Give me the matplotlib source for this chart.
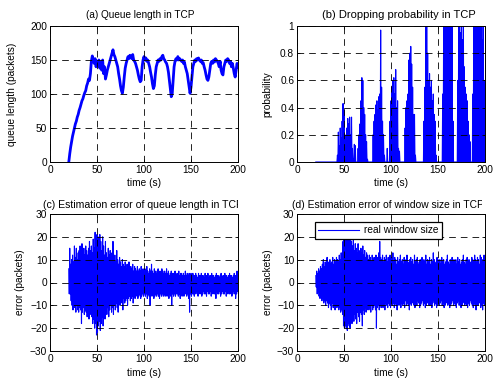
import numpy as np
import matplotlib
matplotlib.use("Agg")
import matplotlib.pyplot as plt
from matplotlib.transforms import Bbox

plt.rcParams['font.family'] = ['Liberation Sans', 'DejaVu Sans']

# ---------------- data ----------------
time_s = np.arange(20, 201)

queue_len = [
    0, 12, 22, 30, 38, 44, 50, 56, 60, 66, 70, 76, 80, 85, 90, 93, 98, 102, 105, 112,   # 20-39
    116, 122, 120, 130, 148, 156,                                                       # 40-45
    150, 145, 152, 140, 148, 143, 150, 138, 146, 135, 150, 130, 140, 122, 128,           # 46-60
    135, 140, 145, 150, 155, 160, 165,                                                  # 61-67
    158, 155, 150, 145, 140, 130, 122, 112, 105, 101,                                   # 68-77
    110, 125, 138, 145, 150, 155, 152, 157,                                             # 78-85
    155, 152, 158, 150, 148, 145, 140, 135, 128, 122, 118,                              # 86-96
    120, 140, 150,                                                                      # 97-99
    155, 150, 153, 148, 150, 145, 140, 132, 125, 115, 108,                              # 100-110
    112, 128, 140, 145, 150, 148, 152, 150, 155, 157, 152,                              # 111-121
    150, 147, 145, 140, 132, 120, 108, 96,                                              # 122-129
    100, 120, 140, 148, 152, 150, 155, 150, 152,                                        # 130-138
    150, 148, 150, 145, 147, 140, 135, 130, 120, 110, 101,                              # 139-149
    110, 125, 140, 145, 150, 148, 152, 150, 153, 150,                                   # 150-159
    148, 150, 145, 146, 140, 135, 128, 122, 120,                                        # 160-168
    125, 135, 145, 148, 145, 150, 147, 152, 150,                                        # 169-177
    148, 145, 140, 148, 135, 130, 128,                                                  # 178-184
    140, 145, 150, 148, 152, 150,                                                       # 185-190
    145, 148, 140, 145, 138, 130, 125, 135, 145, 140,                                   # 191-200
]

drop_prob = (
    [0.0] * 23 +                                                                        # 20-42
    [0.05, 0.22, 0.12, 0.25, 0.18, 0.30, 0.43, 0.38, 0.20, 0.10, 0.25, 0.32,
     0.28, 0.33, 0.20, 0.33, 0.10, 0.02, 0.13, 0.12, 0.0, 0.0] +                        # 43-64
    [0.10, 0.20, 0.28, 0.45, 0.62, 0.60, 0.40, 0.35, 0.20, 0.15, 0.02,
     0.0, 0.0, 0.0, 0.0, 0.0] +                                                         # 65-80
    [0.20, 0.30, 0.35, 0.42, 0.45, 0.38, 0.48, 0.50, 0.97, 0.55, 0.30, 0.20,
     0.05, 0.0, 0.0, 0.10, 0.0, 0.0] +                                                  # 81-98
    [0.30, 0.45, 0.55, 0.60, 0.62, 0.50, 0.68, 0.40, 0.45, 0.10, 0.08,
     0.0, 0.0, 0.0, 0.0, 0.0] +                                                         # 99-114
    [0.25, 0.40, 0.45, 0.50, 0.75, 0.80, 0.85, 0.72, 0.55, 0.35, 0.35, 0.05,
     0.0, 0.0, 0.0, 0.0, 0.0, 0.0, 0.0, 0.0] +                                          # 115-134
    [0.30, 0.55, 1.0, 1.0, 0.80, 0.60, 0.65, 0.55, 0.60, 0.45, 0.50, 0.35,
     0.30, 0.05, 0.0, 0.0, 0.0, 0.0, 0.0, 0.0] +                                        # 135-154
    [0.50, 1.0, 1.0, 1.0, 1.0, 1.0, 1.0, 1.0, 1.0, 1.0, 1.0, 0.30,
     0.0, 0.0, 0.0, 0.0] +                                                              # 155-170
    [0.60, 1.0, 1.0, 0.95, 1.0, 0.90, 1.0, 0.70, 0.55, 0.50, 0.45, 0.30,
     0.20, 0.15, 0.0, 0.0] +                                                            # 171-186
    [0.50, 1.0, 1.0, 1.0, 1.0, 1.0, 1.0, 1.0, 1.0, 1.0, 0.90, 1.0, 0.60, 0.20]          # 187-200
)

qerr_upper = [
    6, 15, 8, 10, 12, 9, 16, 11, 15, 10, 13, 14, 16, 12, 17, 13, 15, 12, 16, 14,       # 20-39
    12, 15, 18, 14, 16, 13, 19, 15, 22, 17, 21, 20, 15, 21, 18, 14, 20, 16, 12, 18,    # 40-59
    13, 11, 15, 12, 14, 10, 13, 18, 11, 12, 9, 14, 10, 8, 11, 9, 7, 10, 8, 7,          # 60-79
    9, 6, 8, 7, 9, 6, 7, 6, 8, 5, 7, 6, 5, 7, 5, 6, 5, 7, 5, 6, 5,                     # 80-100
    6, 5, 7, 5, 4, 6, 5, 8, 5, 4, 6, 5, 4, 5, 6, 4, 5, 4, 6, 5,
    4, 5, 4, 6, 4, 5, 3, 4, 5, 4, 4, 3, 5, 4, 3, 4, 5, 3, 4, 4,
    3, 4, 3, 5, 3, 4, 3, 4, 3, 4,                                                      # 101-150
    3, 4, 3, 3, 4, 3, 2, 4, 3, 3, 4, 3, 3, 2, 4, 3, 3, 4, 2, 3,
    3, 4, 3, 3, 2, 3, 4, 3, 3, 2, 3, 4, 2, 3, 3, 4, 3, 3, 2, 3,
    4, 3, 3, 2, 3, 4, 3, 3, 5, 3,                                                      # 151-200
]
qerr_lower = [
    -5, -5, -8, -10, -12, -9, -11, -13, -10, -12, -13, -11, -12, -18, -13, -11, -14, -12, -13, -15,   # 20-39
    -11, -16, -13, -14, -15, -18, -16, -20, -18, -23, -22, -19, -17, -21, -18, -15, -19, -13, -16, -12,  # 40-59
    -14, -11, -15, -12, -10, -13, -11, -14, -10, -12, -9, -11, -13, -8, -10, -9, -8, -12, -7, -9,    # 60-79
    -8, -7, -10, -7, -6, -8, -7, -6, -9, -6, -7, -6, -5, -7, -6, -5, -7, -6, -5, -6, -5,           # 80-100
    -6, -5, -7, -5, -6, -10, -5, -6, -5, -7, -6, -5, -6, -5, -6, -7, -5, -6, -5, -6,
    -5, -6, -5, -6, -5, -7, -5, -6, -10, -5, -6, -5, -6, -5, -5, -6, -5, -7, -5, -6,
    -5, -6, -5, -5, -6, -5, -7, -13, -5, -6,                                           # 101-150
    -5, -5, -6, -5, -4, -5, -6, -5, -4, -5, -6, -5, -4, -5, -5, -6, -4, -5, -5, -4,
    -6, -5, -4, -5, -5, -7, -4, -5, -5, -4, -6, -5, -4, -5, -5, -4, -6, -5, -4, -5,
    -5, -4, -6, -5, -4, -5, -7, -5, -4, -3,                                            # 151-200
]

werr_upper = [
    3, 5, 4, 6, 5, 7, 6, 8, 10, 7, 9, 8, 11, 8, 9, 10, 8, 9, 11, 8,                   # 20-39
    10, 9, 11, 10, 9, 12, 10, 13, 12, 18, 22, 25, 20, 24, 22, 25, 19, 23, 18, 16,      # 40-59
    19, 14, 17, 15, 13, 17, 14, 12, 15, 13, 16, 12, 14, 11, 13, 12, 10, 12, 11, 9,     # 60-79
    12, 10, 11, 9, 12, 10, 11, 13, 18, 11, 10, 12, 9, 11, 10, 12, 9, 11, 10, 12, 11,   # 80-100
    10, 13, 9, 11, 10, 8, 11, 9, 10, 12, 9, 10, 8, 11, 9, 10, 12, 9, 8, 10,
    11, 9, 10, 8, 12, 9, 10, 11, 8, 9, 10, 9, 11, 8, 10, 9, 12, 8, 10, 9,
    11, 8, 10, 9, 13, 10, 8, 9, 11, 10,                                                # 101-150
    9, 10, 8, 11, 9, 10, 8, 9, 10, 12, 9, 8, 10, 9, 11, 8, 10, 9, 10, 8,
    11, 9, 10, 8, 9, 10, 12, 9, 8, 10, 11, 9, 10, 8, 9, 11, 10, 9, 12, 10,
    9, 11, 10, 8, 12, 11, 10, 9, 12, 11,                                               # 151-200
]
werr_lower = [
    -2, -5, -4, -6, -7, -6, -8, -7, -9, -8, -10, -8, -9, -11, -9, -10, -12, -9, -11, -10,          # 20-39
    -12, -9, -11, -10, -12, -11, -13, -12, -14, -19, -20, -19, -20, -21, -18, -19, -20, -17, -18, -15,  # 40-59
    -17, -14, -16, -18, -13, -15, -17, -13, -14, -19, -12, -14, -11, -13, -12, -10, -12, -11, -13, -10,  # 60-79
    -12, -11, -10, -12, -20, -11, -10, -12, -10, -11, -9, -11, -10, -12, -9, -10, -11, -9, -10, -11, -9,  # 80-100
    -10, -9, -11, -9, -10, -12, -9, -10, -8, -11, -9, -10, -9, -11, -8, -10, -9, -10, -12, -9,
    -10, -9, -8, -10, -11, -9, -10, -8, -9, -11, -10, -9, -8, -10, -9, -11, -10, -9, -8, -10,
    -9, -10, -11, -9, -8, -10, -9, -11, -10, -9,                                       # 101-150
    -10, -9, -8, -10, -9, -11, -10, -9, -8, -10, -9, -11, -10, -9, -8, -10, -9, -10, -11, -9,
    -8, -10, -9, -11, -10, -9, -8, -10, -9, -10, -11, -9, -10, -8, -9, -10, -11, -9, -10, -12,
    -9, -10, -8, -9, -11, -10, -12, -9, -10, -12,                                      # 151-200
]

x_ticks = [0, 50, 100, 150, 200]
q_ticks = [0, 50, 100, 150, 200]
p_ticks = [0, 0.2, 0.4, 0.6, 0.8, 1]
p_tick_labels = ['0', '0.2', '0.4', '0.6', '0.8', '1']
e_ticks = [-30, -20, -10, 0, 10, 20, 30]

titles = ['(a) Queue length in TCP',
          '(b) Dropping probability in TCP',
          '(c) Estimation error of queue length in TCP',
          '(d) Estimation error of window size in TCP']
legend_label = 'real window size'

# ---------------- figure ----------------
W, H = 497, 381
fig = plt.figure(figsize=(W / 100, H / 100), dpi=100)
blue = '#0000ff'
FS = 7.3


def px_axes(l, t, r, b):
    return fig.add_axes([l / W, 1 - b / H, (r - l) / W, (b - t) / H])


def style(ax, yticks, ylim, ylabel, ylab_x, xlab_y, ytl=None):
    ax.set_xlim(0, 200)
    ax.set_ylim(*ylim)
    ax.set_xticks(x_ticks)
    ax.set_yticks(yticks)
    if ytl is not None:
        ax.set_yticklabels(ytl)
    ax.tick_params(direction='in', length=2.5, width=0.6, labelsize=FS,
                   top=True, right=True, pad=2)
    ax.grid(True, color='black', linestyle=(0, (8, 6)), linewidth=0.6)
    ax.set_axisbelow(False)
    for s in ax.spines.values():
        s.set_linewidth(0.7)
    ax.set_xlabel('time (s)', fontsize=FS)
    ax.set_ylabel(ylabel, fontsize=FS)
    ax.yaxis.set_label_coords(ylab_x, 0.5)
    ax.xaxis.set_label_coords(0.5, xlab_y)


def put_title(text, x_left_px, yc_px, clip_px, size):
    t = fig.text(x_left_px / W, 1 - yc_px / H, text, fontsize=size,
                 ha='left', va='center')
    t.set_clip_on(True)
    t.set_clip_box(Bbox.from_extents(0, 0, clip_px, H))
    return t


ax_a = px_axes(50, 26, 238, 162)
ax_b = px_axes(297, 26, 485, 162)
ax_c = px_axes(50, 214, 238, 351)
ax_d = px_axes(297, 214, 485, 351)

# (a) queue length
ax_a.plot(time_s, queue_len, color=blue, linewidth=2.0)
style(ax_a, q_ticks, (0, 200), 'queue length (packets)', -0.178, -0.12)

# (b) dropping probability: each sample drawn down to zero
tz = np.column_stack([time_s, time_s + 0.5]).ravel()
pz = np.column_stack([drop_prob, np.zeros(len(drop_prob))]).ravel()
ax_b.plot(tz, pz, color=blue, linewidth=0.8)
style(ax_b, p_ticks, (0, 1), 'probability', -0.13, -0.12, p_tick_labels)

# (c) estimation error of queue length
cz = np.column_stack([qerr_upper, qerr_lower]).ravel()
ax_c.plot(tz, cz, color=blue, linewidth=0.8)
style(ax_c, e_ticks, (-30, 30), 'error (packets)', -0.133, -0.125)

# (d) estimation error of window size
dz = np.column_stack([werr_upper, werr_lower]).ravel()
ax_d.plot(tz, dz, color=blue, linewidth=0.8, label=legend_label)
style(ax_d, e_ticks, (-30, 30), 'error (packets)', -0.128, -0.125)
leg = ax_d.legend(loc='upper left', bbox_to_anchor=(0.095, 0.945), fontsize=FS,
                  frameon=True, fancybox=False, framealpha=1, edgecolor='black',
                  borderpad=0.35, handlelength=4.0, handletextpad=0.5,
                  borderaxespad=0)
leg.get_frame().set_linewidth(0.9)

put_title(titles[0], 86, 15, W, 7.2)
put_title(titles[1], 322, 15, 482, 8.0)
put_title(titles[2], 43, 205, 238, 7.6)
put_title(titles[3], 292, 205, 482, 7.4)

fig.savefig('out.png', dpi=100)
